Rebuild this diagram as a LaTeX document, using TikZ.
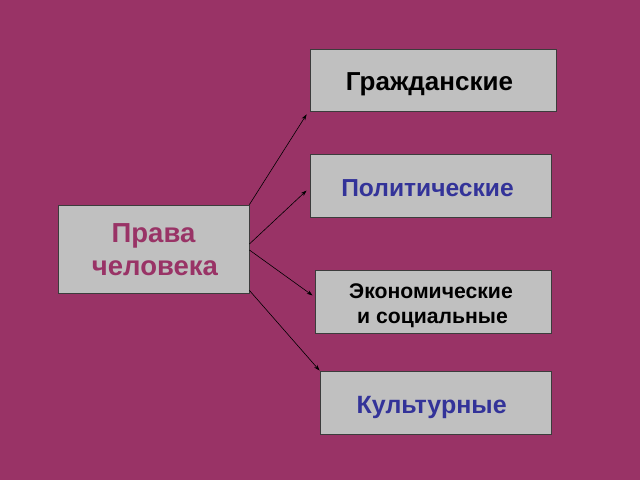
\documentclass[tikz,border=0pt]{standalone}
\usepackage{fontspec}
\setmainfont{Liberation Sans}
\usetikzlibrary{arrows.meta}
\definecolor{bgmag}{RGB}{153,51,102}
\definecolor{boxgray}{RGB}{192,192,192}
\definecolor{txtblue}{RGB}{51,51,153}
\definecolor{edgegray}{RGB}{60,60,60}
\begin{document}
\begin{tikzpicture}[x=1pt,y=1pt,
  box/.style={draw=edgegray, line width=0.8pt, fill=boxgray, rectangle, inner sep=0pt},
  lbl/.style={inner sep=0pt, align=center, font=\bfseries},
  conn/.style={-{Stealth[length=6pt,width=4pt]}, line width=0.6pt, black}]
\fill[bgmag] (0,0) rectangle (640,480);
\useasboundingbox (0,0) rectangle (640,480);
% boxes
\node[box, minimum width=191pt, minimum height=88pt] (L) at (153.5,231) {};
\node[box, minimum width=246pt, minimum height=62pt] (G) at (433,400) {};
\node[box, minimum width=241pt, minimum height=63pt] (P) at (430.5,294.5) {};
\node[box, minimum width=236pt, minimum height=63pt] (E) at (433,178.5) {};
\node[box, minimum width=231pt, minimum height=63pt] (K) at (435.5,77.5) {};
% texts
\node[lbl, anchor=north, text=bgmag, font=\bfseries\fontsize{27.5}{33}\selectfont] (Lt) at (153.5,256.7) {Права\hspace{3pt}\\\hspace{3pt}человека};
\node[lbl, anchor=base, text=black, font=\bfseries\fontsize{26}{28}\selectfont] (Gt) at (429.5,389) {Гражданские};
\node[lbl, anchor=base, text=txtblue, font=\bfseries\fontsize{24.6}{26}\selectfont] (Pt) at (427.5,283.3) {Политические};
\node[lbl, anchor=north, text=black, font=\bfseries\fontsize{21.2}{25}\selectfont] (Et) at (431,196.7) {Экономические\hspace{2.6pt}\\\hspace{3pt}и социальные};
\node[lbl, anchor=base, text=txtblue, font=\bfseries\fontsize{25}{27}\selectfont] (Kt) at (431.7,66.7) {Культурные};
% connectors
\draw[conn] (L.north east) -- ([xshift=-3pt,yshift=-3pt]G.south west);
\draw[conn] ([yshift=5pt]L.east) -- ([xshift=-3pt,yshift=-5pt]P.west);
\draw[conn] ([yshift=-1pt]L.east) -- ([xshift=-2pt,yshift=6pt]E.west);
\draw[conn] ([yshift=3pt]L.south east) -- (K.north west);
\end{tikzpicture}
\end{document}
